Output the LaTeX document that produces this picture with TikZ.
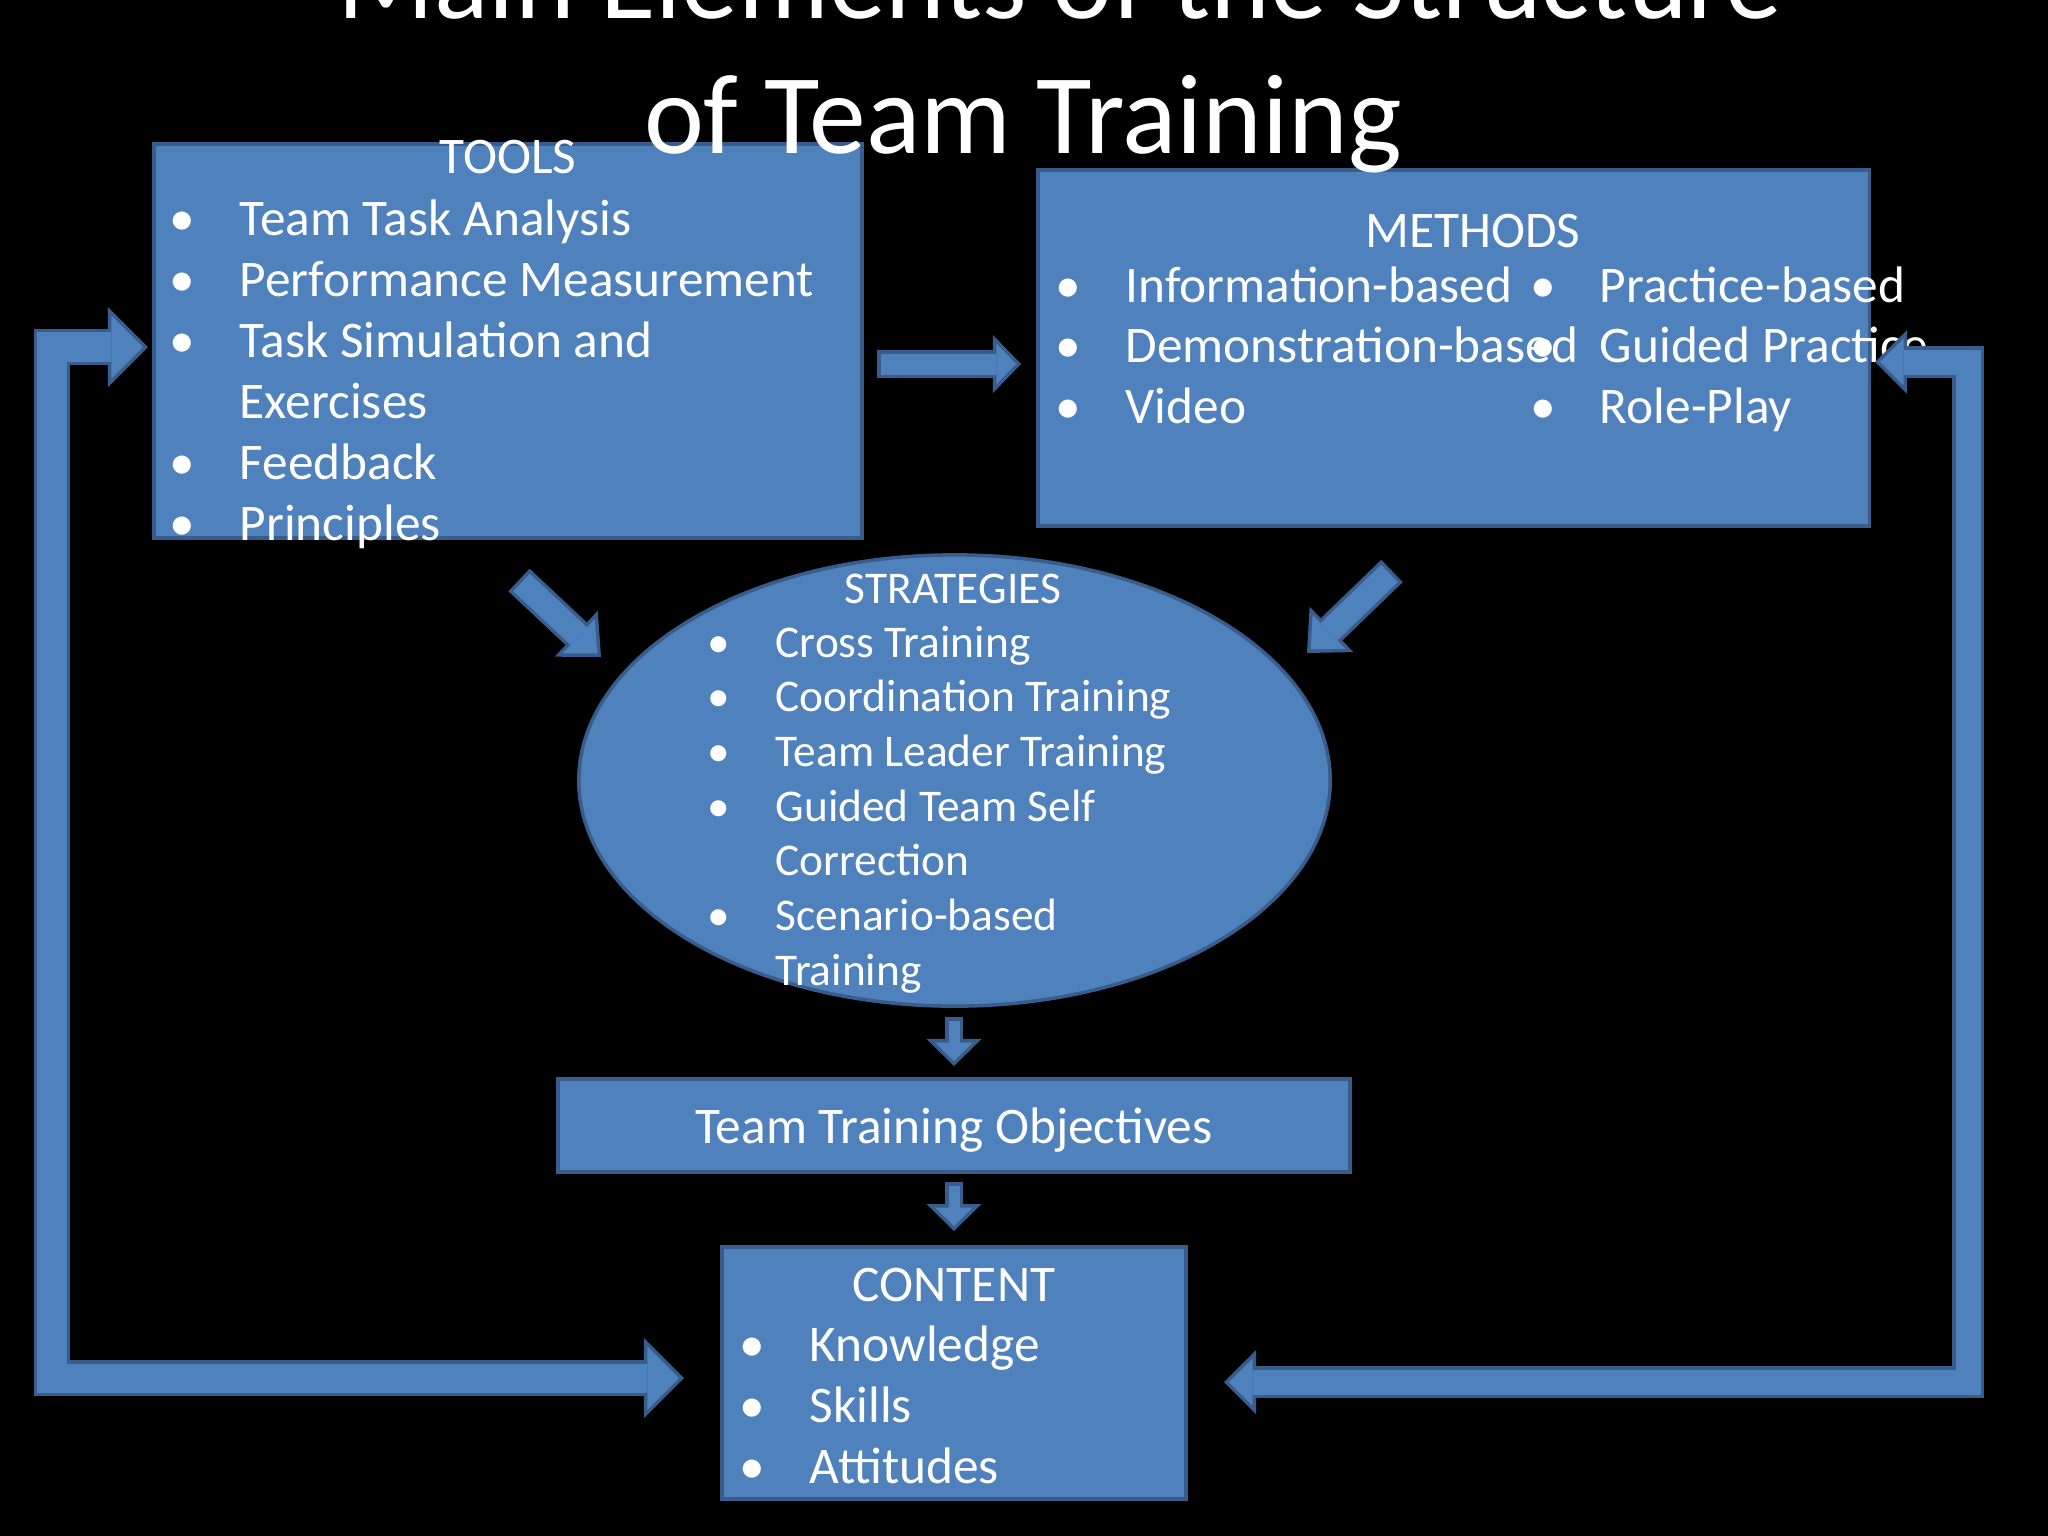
\documentclass[tikz,border=0pt]{standalone}
\usepackage{fontspec}
\setmainfont{Carlito}
\usetikzlibrary{arrows.meta,shapes.geometric}
\definecolor{pptblue}{HTML}{4F81BD}
\definecolor{pptedge}{HTML}{385D8A}
\newcommand\itm{\makebox[0pt]{\textbullet}\hspace*{5.7mm}}
\newcommand\cnt{\hspace*{5.7mm}}
\newcommand\spalte[1]{\makebox[4.74cm][l]{#1}}
\tikzset{
  % kaesten und texte
  blk/.style={draw=pptedge,fill=pptblue,line width=1pt,inner sep=0pt},
  hd/.style={text=white,inner sep=0pt,anchor=base},
  lst/.style={text=white,inner sep=0pt,anchor=base west},
  % blockpfeile: o = rand, i = fuellung
  bAo/.style={draw=pptedge,line width=2.8mm,-{Triangle[width=5.8mm,length=2.8mm,line width=0pt]}},
  bAi/.style={draw=pptblue,line width=2.1mm,shorten <=0.35mm,shorten >=0.49mm,
              -{Triangle[width=4.06mm,length=1.96mm,line width=0pt]}},
  bBo/.style={draw=pptedge,line width=3.1mm,-{Triangle[width=6.3mm,length=3.4mm,line width=0pt]}},
  bBi/.style={draw=pptblue,line width=2.4mm,shorten <=0.35mm,shorten >=0.51mm,
              -{Triangle[width=4.7mm,length=2.54mm,line width=0pt]}},
  bCo/.style={draw=pptedge,line width=1.8mm,-{Triangle[width=5.5mm,length=2.7mm,line width=0pt]}},
  bCi/.style={draw=pptblue,line width=1.1mm,shorten <=0.35mm,shorten >=0.49mm,
              -{Triangle[width=3.79mm,length=1.86mm,line width=0pt]}},
  bDo/.style={draw=pptedge,line width=3.6mm,
              {Triangle[width=8mm,length=4mm,line width=0pt]}-{Triangle[width=8mm,length=4mm,line width=0pt]}},
  bDi/.style={draw=pptblue,line width=2.9mm,shorten <=0.5mm,shorten >=0.5mm,
              {Triangle[width=6.3mm,length=3.15mm,line width=0pt]}-{Triangle[width=6.3mm,length=3.15mm,line width=0pt]}},
  bEo/.style={draw=pptedge,line width=3.2mm,
              {Triangle[width=6.4mm,length=3.2mm,line width=0pt]}-{Triangle[width=6.4mm,length=3.2mm,line width=0pt]}},
  bEi/.style={draw=pptblue,line width=2.5mm,shorten <=0.5mm,shorten >=0.5mm,
              {Triangle[width=4.7mm,length=2.35mm,line width=0pt]}-{Triangle[width=4.7mm,length=2.35mm,line width=0pt]}},
}
\begin{document}
\begin{tikzpicture}[x=0.01cm,y=-0.01cm]
\useasboundingbox (0,0) rectangle (2048,1536);
\fill[black] (0,0) rectangle (2048,1536);
  % kaesten
  \node[blk,minimum width=7.08cm,minimum height=3.94cm] (tools) at (508,341) {};
  \node[blk,minimum width=8.31cm,minimum height=3.56cm] (methods) at (1453.5,348) {};
  \node[blk,ellipse,minimum width=7.51cm,minimum height=4.51cm] (strat) at (954.5,780.5) {};
  \node[blk,minimum width=7.92cm,minimum height=0.93cm] (obj) at (954,1125.5) {};
  \node[blk,minimum width=4.64cm,minimum height=2.52cm] (content) at (954,1373) {};
  % texte
  \node[hd,font=\fontsize{14.6}{17}\selectfont] (toolshd) at (508,173) {TOOLS};
  \node[lst,font=\fontsize{14.6}{17.36}\selectfont] (toolslst) at (182,235) {%
    \begin{tabular}[t]{@{}l@{}}
      \itm Team Task Analysis\\ \itm Performance Measurement\\ \itm Task Simulation and\\
      \cnt Exercises\\ \itm Feedback\\ \itm Principles
    \end{tabular}};
  \node[hd,font=\fontsize{14.6}{17}\selectfont] (methhd) at (1473,247) {METHODS};
  \node[lst,font=\fontsize{14.6}{17.21}\selectfont] (methlst) at (1068,302) {%
    \begin{tabular}[t]{@{}l@{}l@{}}
      \spalte{\itm Information-based} & \itm Practice-based\\
      \spalte{\itm Demonstration-based} & \itm Guided Practice\\
      \spalte{\itm Video} & \itm Role-Play
    \end{tabular}};
  \node[hd,font=\fontsize{12.9}{15}\selectfont] (strathd) at (953,603) {STRATEGIES};
  \node[lst,font=\fontsize{12.9}{15.55}\selectfont] (stratlst) at (718,657) {%
    \begin{tabular}[t]{@{}l@{}}
      \itm Cross Training\\ \itm Coordination Training\\ \itm Team Leader Training\\
      \itm Guided Team Self\\ \cnt Correction\\ \itm Scenario-based\\ \cnt Training
    \end{tabular}};
  \node[hd,font=\fontsize{14.6}{17}\selectfont] (objtxt) at (954,1143) {Team Training Objectives};
  \node[hd,font=\fontsize{14.6}{17}\selectfont] (conthd) at (954,1301) {CONTENT};
  \node[lst,font=\fontsize{14.6}{17.47}\selectfont] (contlst) at (752,1361) {%
    \begin{tabular}[t]{@{}l@{}}
      \itm Knowledge\\ \itm Skills\\ \itm Attitudes
    \end{tabular}};
  % pfeile
  \coordinate (tm-s) at (877,364);   \coordinate (tm-e) at (1021,364);
  \coordinate (ts-s) at (519,580);   \coordinate (ts-e) at (601,657);
  \coordinate (ms-s) at (1392,571);  \coordinate (ms-e) at (1307,653);
  \coordinate (so-s) at (954,1017);  \coordinate (so-e) at (954,1066);
  \coordinate (oc-s) at (954,1182);  \coordinate (oc-e) at (954,1231);
  \coordinate (lt-a) at (148,347);   \coordinate (lt-b) at (52,347);
  \coordinate (lt-c) at (52,1378);   \coordinate (lt-d) at (684,1378);
  \coordinate (rt-a) at (1875,362);  \coordinate (rt-b) at (1968,362);
  \coordinate (rt-c) at (1968,1382); \coordinate (rt-d) at (1224,1382);
  \draw[bAo] (tm-s) -- (tm-e);  \draw[bAi] (tm-s) -- (tm-e);
  \draw[bBo] (ts-s) -- (ts-e);  \draw[bBi] (ts-s) -- (ts-e);
  \draw[bBo] (ms-s) -- (ms-e);  \draw[bBi] (ms-s) -- (ms-e);
  \draw[bCo] (so-s) -- (so-e);  \draw[bCi] (so-s) -- (so-e);
  \draw[bCo] (oc-s) -- (oc-e);  \draw[bCi] (oc-s) -- (oc-e);
  \draw[bDo] (lt-a) -- (lt-b) -- (lt-c) -- (lt-d);
  \draw[bDi] (lt-a) -- (lt-b) -- (lt-c) -- (lt-d);
  \draw[bEo] (rt-a) -- (rt-b) -- (rt-c) -- (rt-d);
  \draw[bEi] (rt-a) -- (rt-b) -- (rt-c) -- (rt-d);
  % titel
  \node[hd,font=\fontsize{32.3}{40}\selectfont] (title1) at (1060,18) {Main Elements of the Structure};
  \node[hd,font=\fontsize{32.3}{40}\selectfont] (title2) at (1023,153) {of Team Training};
\end{tikzpicture}
\end{document}
